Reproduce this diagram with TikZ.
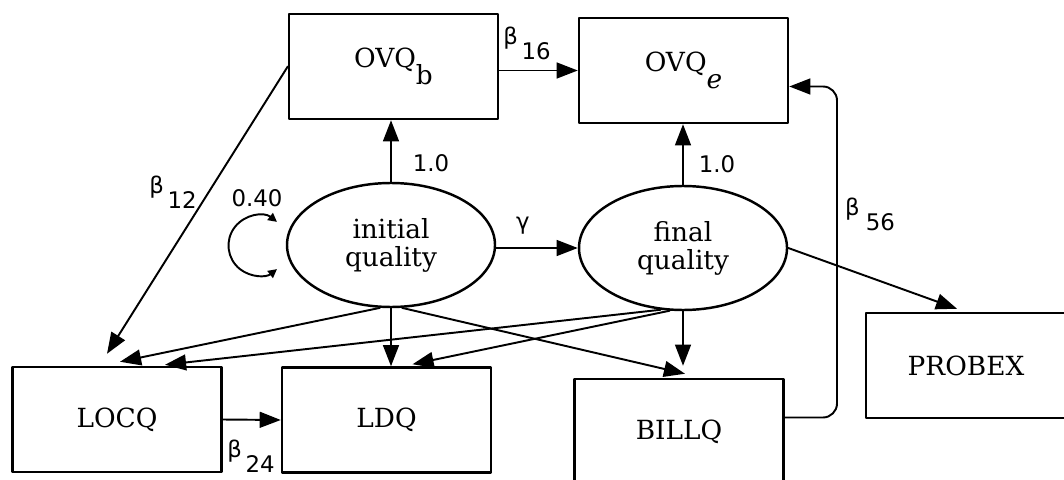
\documentclass[tikz,border=0pt]{standalone}
\usepackage{fontspec}
\setmainfont{DejaVu Serif}
\usepackage{tikz}
\usetikzlibrary{arrows.meta,calc,shapes.geometric}
\newfontfamily\lblfont{DejaVu Sans}
\newcommand{\dropsub}[1]{\raisebox{-1.2ex}{#1}}

\begin{document}
\begin{tikzpicture}[x=0.2mm,y=-0.2mm,>={Triangle[length=12pt,width=9pt]},
  line cap=round,line join=round,line width=1.1pt,
  font=\fontsize{15}{16}\selectfont,
  box/.style={draw,rectangle,line width=1.4pt,minimum width=41.8mm,minimum height=21mm,inner sep=0pt},
  latent/.style={draw,ellipse,line width=1.4pt,minimum width=41.6mm,minimum height=24.8mm,inner sep=0pt,align=center},
  info/.style={font={\lblfont\fontsize{13}{15}\selectfont},inner sep=1pt}]
\useasboundingbox (0,0) rectangle (1064,480);
\begin{scope}
\clip (0,0) rectangle (1064,480);
% observed variables
\node[box] (ovqb) at (393.5,66.5) {OVQ\dropsub{b}};
\node[box] (ovqe) at (683.5,70.5) {OVQ\dropsub{\textit{e}}};
\node[box] (locq) at (117,419.5) {LOCQ};
\node[box] (ldq) at (386.5,420) {LDQ};
\node[box] (billq) at (679,431.5) {BILLQ};
\node[box,minimum width=40mm] (probex) at (966,365.5) {PROBEX};
% latent variables
\node[latent] (init) at (391,245) {initial\\quality};
\node[latent] (final) at (683,248) {final\\quality};
\coordinate (loop) at (258.5,245.5);
\coordinate (rail) at (837,250);
% paths
\draw[->] (ovqb.east |- ovqe) -- (ovqe.west);
\draw[->] (init.north) -- (init.north |- ovqb.south);
\draw[->] (final.north) -- (final.north |- ovqe.south);
\draw[->] (init.east |- final) -- (final.west);
\draw[->] (ovqb.west) -- ($(locq.north)+(-10,-12)$);
\draw[->] (init.260) -- ($(locq.north)+(3,-4)$);
\draw[->] (init.south) -- (init.south |- ldq.north);
\draw[->] (init.280) -- ($(billq.north)+(6,-4)$);
\draw[->] (final.250) -- ($(locq.north)+(48,-1)$);
\draw[->] (final.258) -- ($(ldq.north)+(26,-2)$);
\draw[->] (final.south) -- ($(final.south |- billq.north)+(0,-12)$);
\draw[->] (final.east) -- ($(probex.north)+(-9,-3)$);
\draw[->] (locq.east) -- (ldq.west);
\draw[->,rounded corners=8pt] ($(billq.east)+(0,-14)$) -| (rail) |- ($(ovqe.east)+(0,16)$);
% variance of initial quality
\draw[<->,>={Triangle[length=5pt,width=5pt]}] ($(loop)+(-52:30)$) arc[start angle=-52,end angle=-308,radius=30];
% coefficients
\node[info] (lb16) at (527,43) {β\,\dropsub{16}};
\node[info] (lbinit) at (431,163) {1.0};
\node[info] (lbfinal) at (717,164) {1.0};
\node[info] (lbgamma) at (523,226) {γ};
\node[info] (lb12) at (173,192) {β\,\dropsub{12}};
\node[info] (lbvar) at (257,198) {0.40};
\node[info] (lb56) at (870,214) {β\;\dropsub{56}};
\node[info] (lb24) at (251,456) {β\,\dropsub{24}};
\end{scope}
\end{tikzpicture}
\end{document}
